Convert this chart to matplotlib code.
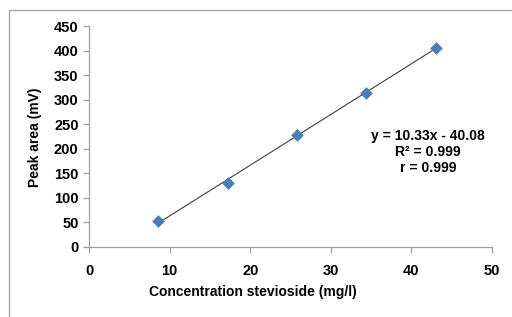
import matplotlib
matplotlib.use("Agg")
import matplotlib.pyplot as plt
from matplotlib.patches import Rectangle
import numpy as np

plt.rcParams['font.family'] = ['Liberation Sans', 'DejaVu Sans']

concentration = [8.6, 17.2, 25.8, 34.4, 43.0]
peak_area = [52, 131, 228, 313, 406]
slope = 10.33
intercept = -40.08
eq_lines = ["y = 10.33x - 40.08", "R² = 0.999", "r = 0.999"]
x_ticks = [0, 10, 20, 30, 40, 50]
y_ticks = [0, 50, 100, 150, 200, 250, 300, 350, 400, 450]

W, H = 512, 317
fig = plt.figure(figsize=(W/100, H/100), dpi=100)
ax = fig.add_axes([89/W, 1-247/H, (492-89)/W, (247-26)/H])

# figure border (top and left visible)
fig.patches.append(Rectangle((9/W, -0.1), 1.2, 1-10/H+0.1, transform=fig.transFigure,
                             fill=False, edgecolor='#a6a6a6', linewidth=1.0))

xs = np.array([concentration[0], concentration[-1]])
ax.plot(xs, slope*xs + intercept, color='#404040', linewidth=0.8, zorder=2)
ax.scatter(concentration, peak_area, marker='D', s=42, color='#4a7ebb', zorder=3,
           linewidths=0)

ax.set_xlim(0, 50)
ax.set_ylim(0, 450)
ax.set_xticks(x_ticks)
ax.set_yticks(y_ticks)
for s in ['top', 'right']:
    ax.spines[s].set_visible(False)
for s in ['left', 'bottom']:
    ax.spines[s].set_color('#a0a0a0')
    ax.spines[s].set_linewidth(0.9)
ax.tick_params(axis='both', colors='#a0a0a0', labelcolor='black', labelsize=10.5,
               length=4, width=0.9)
ax.tick_params(axis='x', pad=8)
for lab in ax.get_xticklabels() + ax.get_yticklabels():
    lab.set_fontweight('bold')

fig.text(253/W, 1-292/H, "Concentration stevioside (mg/l)", ha='center', va='center',
         fontsize=10, fontweight='bold')
fig.text(35/W, 1-137/H, "Peak area (mV)", ha='center', va='center', rotation=90,
         fontsize=10, fontweight='bold')

fig.text(428/W, 1-152/H, "\n".join(eq_lines), ha='center', va='center',
         fontsize=10, fontweight='bold', linespacing=1.2)

fig.savefig("out.png", dpi=100)
